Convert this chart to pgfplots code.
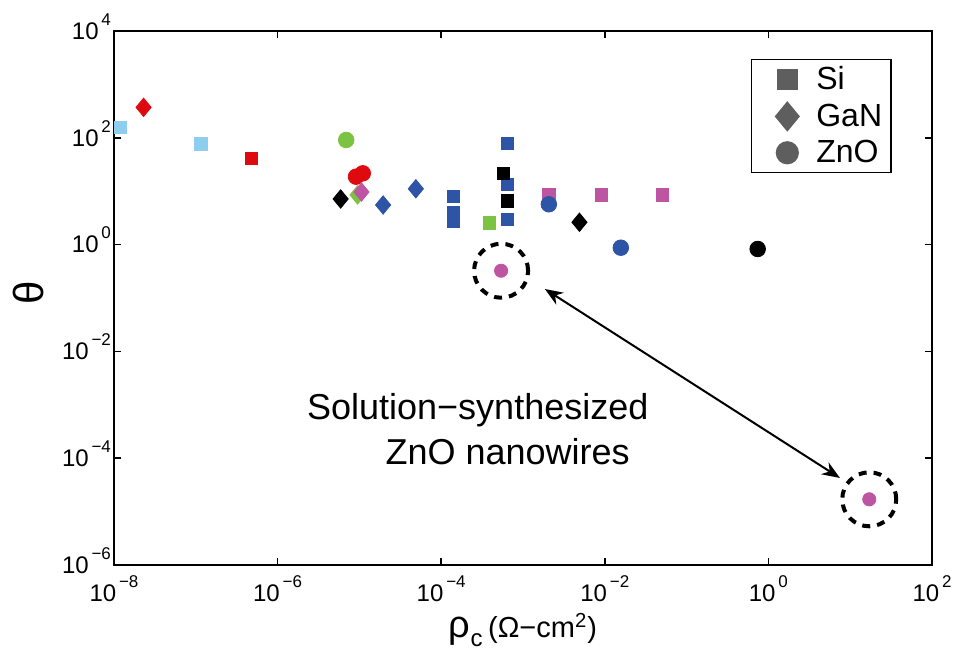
\documentclass[border=0pt]{standalone}
\usepackage{fontspec}
\setmainfont{Liberation Sans}
\usepackage{pgfplots}
\pgfplotsset{compat=1.18}
\usetikzlibrary{arrows.meta}

\definecolor{skyb}{HTML}{8DCDED}
\definecolor{mred}{HTML}{DE0A10}
\definecolor{mblue}{HTML}{2E54A5}
\definecolor{mgreen}{HTML}{7CC243}
\definecolor{mmag}{HTML}{BE55A2}
\definecolor{lgray}{HTML}{5E5E5E}

% tick label: 10 with a high exponent
\newcommand{\xe}[1]{10\raisebox{7pt}{\fontsize{8.5}{9}\selectfont\,#1}}
\newcommand{\ye}[1]{10\smash{\raisebox{7pt}{\fontsize{8.5}{9}\selectfont\,#1}}}

\begin{document}
\begin{tikzpicture}
\begin{axis}[
  scale only axis, width=409pt, height=267pt,
  xmode=log, ymode=log,
  xmin=1e-8, xmax=1e2, ymin=1e-6, ymax=1e4,
  xtick={1e-8,1e-6,1e-4,1e-2,1,1e2},
  xticklabels={\xe{−8},\xe{−6},\xe{−4},\xe{−2},\xe{0},\xe{2}},
  ytick={1e-6,1e-4,1e-2,1,1e2,1e4},
  yticklabels={\ye{−6},\ye{−4},\ye{−2},\ye{0},\ye{2},\ye{4}},
  xminorticks=false, yminorticks=false,
  tick align=inside, major tick length=3.5pt,
  axis line style={line width=0.8pt},
  every tick/.style={black, line width=0.8pt},
  tick label style={font=\fontsize{12}{14}\selectfont},
  yticklabel style={xshift=2pt},
  xticklabel style={yshift=-2pt},
  xlabel={{\fontsize{19}{20}\selectfont ρ\raisebox{-4.5pt}{\fontsize{12}{12}\selectfont c}} {\fontsize{14.5}{16}\selectfont (Ω−cm\textsuperscript{2})}},
  xlabel style={at={(rel axis cs:0.5,0)}, anchor=center, yshift=-32.5pt},
  ylabel={\fontsize{21}{22}\selectfont θ},
  ylabel style={at={(rel axis cs:0,0.51)}, anchor=center, yshift=42.5pt},
  legend style={at={(0.951,0.948)}, anchor=north east, draw=black, line width=0.8pt,
    font=\fontsize{16}{18}\selectfont, row sep=1.5pt, inner xsep=2.5pt, inner ysep=1.5pt,
    nodes={inner sep=2pt, text depth=0.15em}},
  legend cell align=left,
  legend image code/.code={\path[draw=none] (0pt,0pt) -- (28pt,0pt); \draw[#1] plot[only marks] coordinates {(15.5pt,0pt)};},
]
\addlegendimage{only marks, mark=square*, lgray, mark size=4.7pt}
\addlegendentry{Si}
\addlegendimage{only marks, mark=diamond*, lgray, mark size=7pt, mark options={xscale=1.1}}
\addlegendentry{GaN}
\addlegendimage{only marks, mark=*, lgray, mark size=5.4pt}
\addlegendentry{ZnO}

% Si
\addplot[only marks, mark=square*, skyb, mark size=3.1pt, forget plot] coordinates {(1.2e-8,155) (1.15e-7,76.6)};
\addplot[only marks, mark=square*, mred, mark size=3.1pt, forget plot] coordinates {(4.8e-7,41)};
\addplot[only marks, mark=square*, mblue, mark size=3.1pt, forget plot] coordinates {
  (1.41e-4,7.9) (1.41e-4,3.9) (1.41e-4,2.77) (6.5e-4,78.9) (6.5e-4,13.5) (6.5e-4,2.98)};
\addplot[only marks, mark=square*, mgreen, mark size=3.1pt, forget plot] coordinates {(3.9e-4,2.57)};
\addplot[only marks, mark=square*, black, mark size=3.1pt, forget plot] coordinates {(5.75e-4,21.6) (6.5e-4,6.55)};
\addplot[only marks, mark=square*, mmag, mark size=3.1pt, forget plot] coordinates {(2.07e-3,8.5) (9.1e-3,8.5) (5.1e-2,8.5)};

% ZnO
\addplot[only marks, mark=*, mgreen, mark size=3.9pt, forget plot] coordinates {(6.9e-6,91)};
\addplot[only marks, mark=*, mred, mark size=3.9pt, forget plot] coordinates {(9.1e-6,18.7) (1.1e-5,21.6)};
\addplot[only marks, mark=*, mblue, mark size=3.9pt, forget plot] coordinates {(2.07e-3,5.69) (1.57e-2,0.875)};
\addplot[only marks, mark=*, black, mark size=3.9pt, forget plot] coordinates {(0.74,0.828)};
\addplot[only marks, mark=*, mmag, mark size=3.3pt, forget plot] coordinates {(5.4e-4,0.324) (17.1,1.70e-5)};

% GaN
\addplot[only marks, mark=diamond*, mred, mark size=4.6pt, mark options={xscale=1.1}, forget plot] coordinates {(2.3e-8,372)};
\addplot[only marks, mark=diamond*, black, mark size=4.6pt, mark options={xscale=1.1}, forget plot] coordinates {(5.9e-6,7.15) (4.9e-3,2.62)};
\addplot[only marks, mark=diamond*, mgreen, mark size=4.6pt, mark options={xscale=1.1}, forget plot] coordinates {(9.5e-6,8.5)};
\addplot[only marks, mark=diamond*, mmag, mark size=4.6pt, mark options={xscale=1.1}, forget plot] coordinates {(1.06e-5,9.66)};
\addplot[only marks, mark=diamond*, mblue, mark size=4.6pt, mark options={xscale=1.1}, forget plot] coordinates {(1.95e-5,5.52) (4.9e-5,11.1)};

\draw[line width=2pt, dash pattern=on 4pt off 3.5pt] (axis cs:5.4e-4,0.324) circle[radius=13.5pt];
\draw[line width=2pt, dash pattern=on 4pt off 3.5pt] (axis cs:17.1,1.70e-5) circle[radius=13.5pt];
\draw[<->, >={Stealth[length=9pt,width=7pt]}, line width=1pt] (axis cs:1.85e-3,0.1476) -- (axis cs:7.5,4.26e-5);
\node[font=\fontsize{18}{20}\selectfont] at (axis cs:2.8e-4,8.0e-4) {Solution−synthesized};
\node[font=\fontsize{18}{20}\selectfont] at (axis cs:6.5e-4,1.31e-4) {ZnO nanowires};

\coordinate (sw) at (rel axis cs:0,0);
\coordinate (ne) at (rel axis cs:1,1);
\end{axis}
\pgfresetboundingbox
\path ([xshift=-57pt,yshift=-43.5pt]sw) rectangle ([xshift=10.5pt,yshift=15.5pt]ne);
\end{tikzpicture}
\end{document}
